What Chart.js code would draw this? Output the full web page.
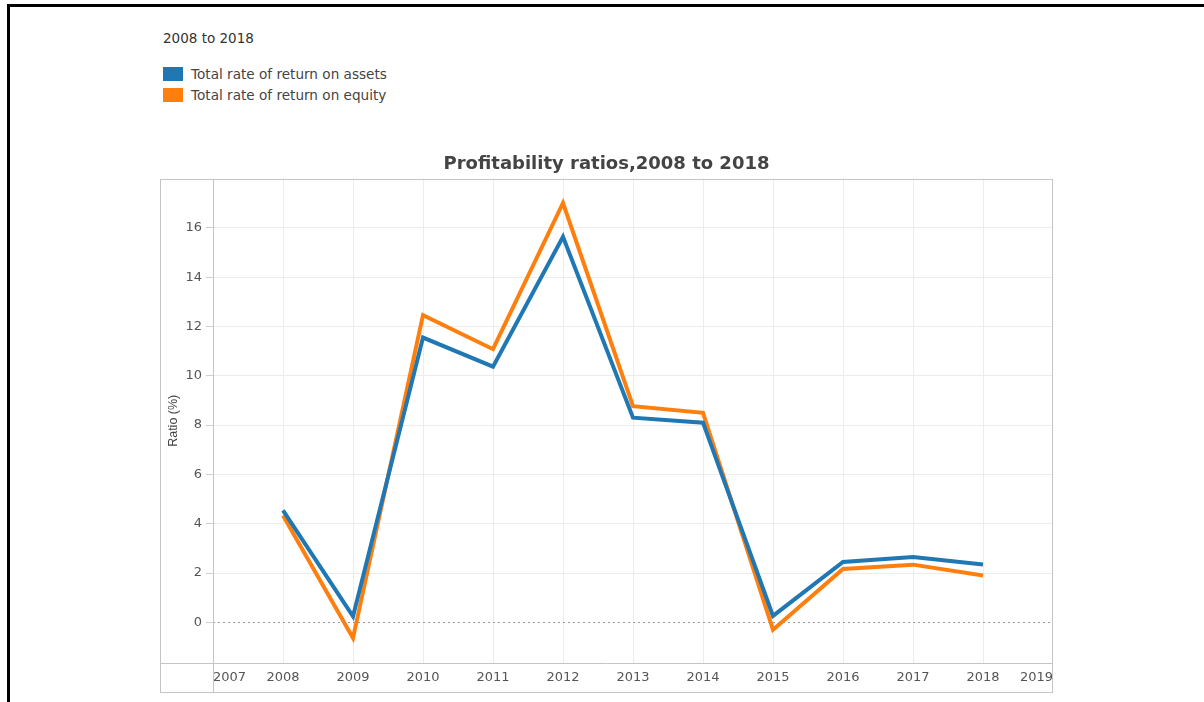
<!DOCTYPE html>
<html>
<head>
<meta charset="utf-8">
<script src="https://cdn.jsdelivr.net/npm/chart.js@4.4.1/dist/chart.umd.min.js"></script>
<style>
  html, body { margin: 0; padding: 0; background: #fff; }
  body { width: 1204px; height: 702px; position: relative; overflow: hidden;
         font-family: "DejaVu Sans", "Liberation Sans", Arial, sans-serif; }
  #frame { position: absolute; left: 7px; top: 4px; width: 1210px; height: 710px;
           border-top: 3px solid #000; border-left: 3px solid #000; }
  #sub { position: absolute; left: 163px; top: 30px; font-size: 13.5px; color: #333; }
  .leg { position: absolute; left: 163px; font-size: 13.6px; color: #444; height: 14px; line-height: 14px; }
  .leg i { display: inline-block; width: 20px; height: 14px; vertical-align: top; margin-right: 8px; }
  #wrap { position: absolute; left: 0; top: 0; width: 1204px; height: 702px; }
</style>
</head>
<body>
<div id="frame"></div>
<div id="sub">2008 to 2018</div>
<div class="leg" style="top:67px"><i style="background:#1f77b4"></i>Total rate of return on assets</div>
<div class="leg" style="top:88px"><i style="background:#ff7f0e"></i>Total rate of return on equity</div>
<div id="wrap"><canvas id="c" width="1204" height="702"></canvas></div>
<script>
/* ============ Data ============ */
const years = [2008, 2009, 2010, 2011, 2012, 2013, 2014, 2015, 2016, 2017, 2018];
const assets = [4.54, 0.24, 11.55, 10.37, 15.64, 8.30, 8.10, 0.26, 2.45, 2.65, 2.35];
const equity = [4.33, -0.64, 12.46, 11.08, 17.01, 8.77, 8.50, -0.30, 2.16, 2.34, 1.90];
const yTicks = [0, 2, 4, 6, 8, 10, 12, 14, 16];
const xTicks = [2007, 2008, 2009, 2010, 2011, 2012, 2013, 2014, 2015, 2016, 2017, 2018, 2019];

const BLUE = "#1f77b4";
const ORANGE = "#ff7f0e";
const FONT = "'DejaVu Sans', 'Liberation Sans', Arial, sans-serif";

const pts = arr => years.map((y, i) => ({x: y, y: arr[i]}));

/* ============ Frame + zero line ============ */
const framePlugin = {
    id: "frame",
    afterDraw(chart) {
        const {ctx, chartArea: a, scales: {x, y}} = chart;
        ctx.save();
        // dotted zero line
        const z = Math.round(y.getPixelForValue(0)) + 0.5;
        ctx.strokeStyle = "#999";
        ctx.lineWidth = 1;
        ctx.setLineDash([2, 3]);
        ctx.beginPath();
        ctx.moveTo(a.left, z);
        ctx.lineTo(a.right, z);
        ctx.stroke();
        ctx.setLineDash([]);
        // boxes
        ctx.strokeStyle = "#c4c4c4";
        ctx.lineWidth = 1;
        const L = Math.round(y.left) + 0.5, R = Math.round(a.right) - 0.5;
        const T = Math.round(a.top) + 0.5, B = Math.round(x.bottom) - 0.5;
        ctx.strokeRect(L, T, R - L, B - T);
        ctx.beginPath();
        ctx.moveTo(Math.round(a.left) + 0.5, T);
        ctx.lineTo(Math.round(a.left) + 0.5, B);
        ctx.moveTo(L, Math.round(a.bottom) + 0.5);
        ctx.lineTo(R, Math.round(a.bottom) + 0.5);
        ctx.stroke();
        ctx.restore();
    }
};

/* ============ Chart ============ */
new Chart(document.getElementById("c"), {
    type: "line",
    data: {
        datasets: [
            {label: "Total rate of return on assets", data: pts(assets), borderColor: BLUE, backgroundColor: BLUE},
            {label: "Total rate of return on equity", data: pts(equity), borderColor: ORANGE, backgroundColor: ORANGE}
        ]
    },
    options: {
        responsive: false,
        animation: false,
        layout: {padding: {left: 160, right: 151, top: 149, bottom: 9}},
        elements: {
            line: {borderWidth: 4, tension: 0, borderJoinStyle: "miter", borderCapStyle: "butt"},
            point: {radius: 0}
        },
        plugins: {
            legend: {display: false},
            tooltip: {enabled: false},
            title: {
                display: true,
                text: "Profitability ratios,2008 to 2018",
                color: "#444",
                font: {family: FONT, size: 18, weight: "bold"},
                padding: {top: 5, bottom: 3}
            }
        },
        scales: {
            x: {
                type: "linear",
                min: 2007,
                max: 2019,
                afterFit: s => { s.height = 30; },
                afterBuildTicks: s => { s.ticks = xTicks.map(v => ({value: v})); },
                border: {display: false},
                grid: {
                    drawTicks: false,
                    color: c => (c.tick && (c.tick.value === 2007 || c.tick.value === 2019)) ? "rgba(0,0,0,0)" : "#ececec"
                },
                ticks: {
                    align: "inner",
                    padding: 7,
                    color: "#555",
                    font: {family: FONT, size: 13},
                    callback: v => String(v)
                }
            },
            y: {
                min: -1.65,
                max: 18,
                afterFit: s => { s.width = 53; },
                afterBuildTicks: s => { s.ticks = yTicks.map(v => ({value: v})); },
                border: {display: false},
                grid: {
                    color: c => (c.tick && c.tick.value === 0) ? "rgba(0,0,0,0)" : "#ececec",
                    tickColor: "#cfcfcf",
                    tickLength: 7
                },
                ticks: {
                    padding: 4,
                    color: "#555",
                    font: {family: FONT, size: 13},
                    callback: v => String(v)
                },
                title: {
                    display: true,
                    text: "Ratio (%)",
                    color: "#444",
                    font: {family: "'Liberation Sans', Arial, sans-serif", size: 12.5},
                    padding: {top: 6, bottom: 0}
                }
            }
        }
    },
    plugins: [framePlugin]
});
</script>
</body>
</html>
